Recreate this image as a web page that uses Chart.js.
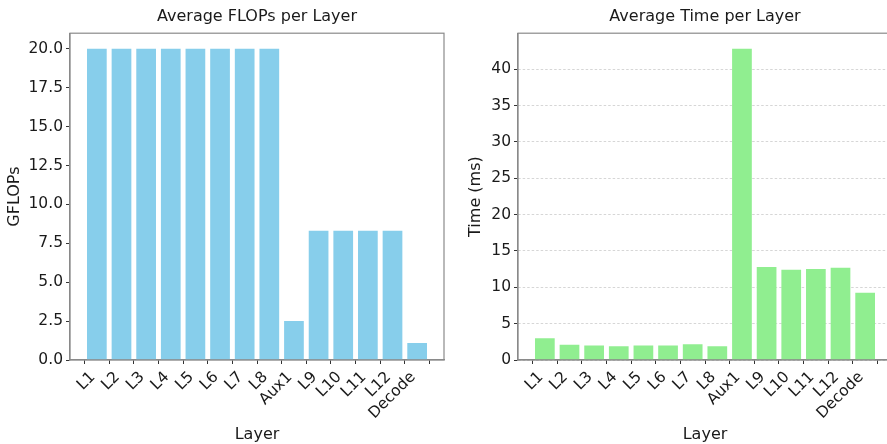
<!DOCTYPE html>
<html>
<head>
<meta charset="utf-8">
<script src="https://cdn.jsdelivr.net/npm/chart.js@4/dist/chart.umd.min.js"></script>
<style>
  html, body { margin: 0; padding: 0; background: #fff; overflow: hidden; width: 887px; height: 444px; }
  #wrap { position: relative; width: 887px; height: 444px; overflow: hidden; }
  .panel { position: absolute; top: 0; height: 444px; }
</style>
</head>
<body>
<div id="wrap">
  <div class="panel" style="left:0;width:450px"><canvas id="flops"></canvas></div>
  <div class="panel" style="left:450px;width:450px"><canvas id="time"></canvas></div>
</div>
<script>
// Per-layer measurements
const layers = ['L1', 'L2', 'L3', 'L4', 'L5', 'L6', 'L7', 'L8', 'Aux1', 'L9', 'L10', 'L11', 'L12', 'Decode'];
const gflops = [20.0, 20.0, 20.0, 20.0, 20.0, 20.0, 20.0, 20.0, 2.5, 8.3, 8.3, 8.3, 8.3, 1.1];
const timeMs = [3.0, 2.1, 2.0, 1.9, 2.0, 2.0, 2.15, 1.9, 42.8, 12.8, 12.4, 12.5, 12.7, 9.25];
const flopsTicks = [0, 2.5, 5, 7.5, 10, 12.5, 15, 17.5, 20];
const timeTicks = [0, 5, 10, 15, 20, 25, 30, 35, 40];

const FONT = 'DejaVu Sans';
const SPINE = '#8a8a8a';
const TEXT = '#1a1a1a';

// Outline the full plot box (top/right spines included)
const boxPlugin = {
  id: 'box',
  afterDraw(chart) {
    const { ctx, chartArea: a } = chart;
    ctx.save();
    ctx.strokeStyle = SPINE;
    ctx.lineWidth = 1.2;
    ctx.strokeRect(a.left, a.top, a.right - a.left, a.bottom - a.top);
    ctx.restore();
  }
};

function makeChart(id, values, color, yTicks, yTitle, title, decimals, yAxisWidth, padRight, gridOn, yTitleShift) {
  const n = values.length;
  // 5% margins around the bar extents
  const span = (n - 1) + 0.8;
  const xMin = -0.4 - 0.05 * span;
  const xMax = (n - 1) + 0.4 + 0.05 * span;
  const yMax = Math.max(...values) * 1.05;

  return new Chart(document.getElementById(id), {
    type: 'bar',
    data: {
      datasets: [{
        data: values.map((v, i) => ({ x: i, y: v })),
        backgroundColor: color,
        borderWidth: 0,
        categoryPercentage: 1.0,
        barPercentage: 0.8
      }]
    },
    plugins: [boxPlugin],
    options: {
      responsive: false,
      animation: false,
      devicePixelRatio: 1,
      layout: { padding: { left: 0, right: padRight, top: 0, bottom: 0 } },
      plugins: {
        legend: { display: false },
        tooltip: { enabled: false },
        title: {
          display: true,
          fullSize: false,
          text: title,
          color: TEXT,
          font: { family: FONT, size: 16, weight: 'normal' },
          padding: { top: 7, bottom: 7 }
        }
      },
      scales: {
        x: {
          type: 'linear',
          min: xMin,
          max: xMax,
          offset: false,
          afterBuildTicks: s => { s.ticks = layers.map((_, i) => ({ value: i })); },
          afterFit: s => { s.height = 84; },
          ticks: {
            autoSkip: false,
            maxRotation: 45,
            minRotation: 45,
            padding: 4,
            labelOffset: -4,
            color: TEXT,
            font: { family: FONT, size: 15.5 },
            callback: v => layers[v]
          },
          grid: { display: true, drawOnChartArea: false, drawTicks: true, tickLength: 4, tickColor: '#333', tickWidth: 1 },
          border: { display: true, color: SPINE, width: 1.2 },
          title: {
            display: true,
            text: 'Layer',
            color: TEXT,
            font: { family: FONT, size: 16 },
            padding: { top: 0, bottom: 0 }
          }
        },
        y: {
          min: 0,
          max: yMax,
          afterBuildTicks: s => { s.ticks = yTicks.map(v => ({ value: v })); },
          afterFit: s => { s.width = yAxisWidth; },
          ticks: {
            padding: 3,
            color: TEXT,
            font: { family: FONT, size: 15.5 },
            callback: v => v.toFixed(decimals)
          },
          grid: {
            display: true,
            drawOnChartArea: gridOn,
            color: 'rgba(175,175,175,0.65)',
            lineWidth: 0.8,
            drawTicks: true,
            tickLength: 4,
            tickColor: '#333',
            tickWidth: 1,
            tickBorderDash: []
          },
          border: { display: true, color: SPINE, width: 1.2, dash: gridOn ? [2.5, 2] : [] },
          title: {
            display: true,
            text: yTitle,
            color: TEXT,
            font: { family: FONT, size: 16 },
            padding: { top: yTitleShift, bottom: 4 }
          }
        }
      }
    }
  });
}

// Canvas sizes set explicitly (non-responsive)
document.getElementById('flops').width = 450;
document.getElementById('flops').height = 444;
document.getElementById('time').width = 450;
document.getElementById('time').height = 444;

makeChart('flops', gflops, '#87CEEB', flopsTicks, 'GFLOPs', 'Average FLOPs per Layer', 1, 70, 6, false, 5);
makeChart('time', timeMs, '#90EE90', timeTicks, 'Time (ms)', 'Average Time per Layer', 0, 68, 8, true, 16);
</script>
</body>
</html>
